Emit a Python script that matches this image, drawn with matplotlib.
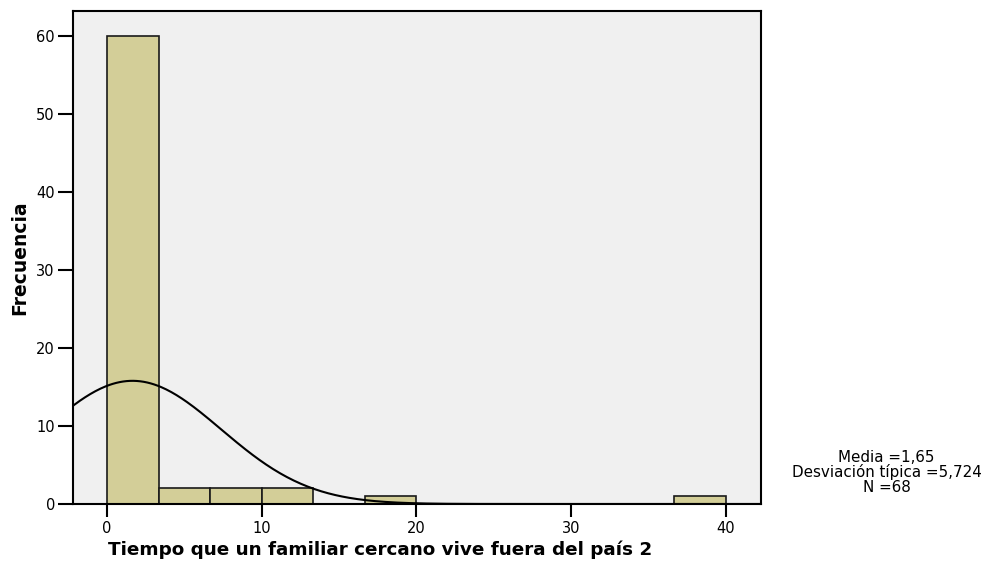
import numpy as np
import matplotlib
matplotlib.use("Agg")
import matplotlib.pyplot as plt

plt.rcParams["font.family"] = ["DejaVu Sans"]

# histograma: 12 intervalos de 0 a 40
bin_edges = np.linspace(0, 40, 13)
counts = [60, 2, 2, 2, 0, 1, 0, 0, 0, 0, 0, 1]

media = 1.65
desv = 5.724
n = 68

x_ticks = [0, 10, 20, 30, 40]
y_ticks = [0, 10, 20, 30, 40, 50, 60]

fig = plt.figure(figsize=(9.94, 5.61), dpi=100)
ax = fig.add_axes([0.0734, 0.1016, 0.6926, 0.8784])
ax.set_facecolor("#f0f0f0")

widths = np.diff(bin_edges)
ax.bar(bin_edges[:-1], counts, width=widths, align="edge",
       color="#d3ce98", edgecolor="#1a1a1a", linewidth=1.2, zorder=2)

# curva normal escalada a frecuencias
xs = np.linspace(-2.2, 42.3, 400)
ancho = widths[0]
ys = n * ancho / (desv * np.sqrt(2 * np.pi)) * np.exp(-0.5 * ((xs - media) / desv) ** 2)
ax.plot(xs, ys, color="black", linewidth=1.5, zorder=3)

ax.set_xlim(-2.2, 42.3)
ax.set_ylim(0, 63.2)
ax.set_xticks(x_ticks)
ax.set_yticks(y_ticks)
ax.tick_params(axis="x", direction="out", length=9, width=1.5, labelsize=10.5, pad=3)
ax.tick_params(axis="y", direction="out", length=11, width=1.5, labelsize=10.5, pad=2)
for s in ax.spines.values():
    s.set_linewidth(1.5)

ax.set_xlabel("Tiempo que un familiar cercano vive fuera del país 2",
              fontsize=13.2, fontweight="bold")
ax.xaxis.set_label_coords(0.446, -0.075)
ax.set_ylabel("Frecuencia", fontsize=13.5, fontweight="bold")
ax.yaxis.set_label_coords(-0.063, 0.5)

stats = "Media =1,65\nDesviación típica =5,724\nN =68"
fig.text(0.892, 0.1586, stats, ha="center", va="center", fontsize=10.9,
         linespacing=0.96)

plt.savefig("out.png", dpi=100)
